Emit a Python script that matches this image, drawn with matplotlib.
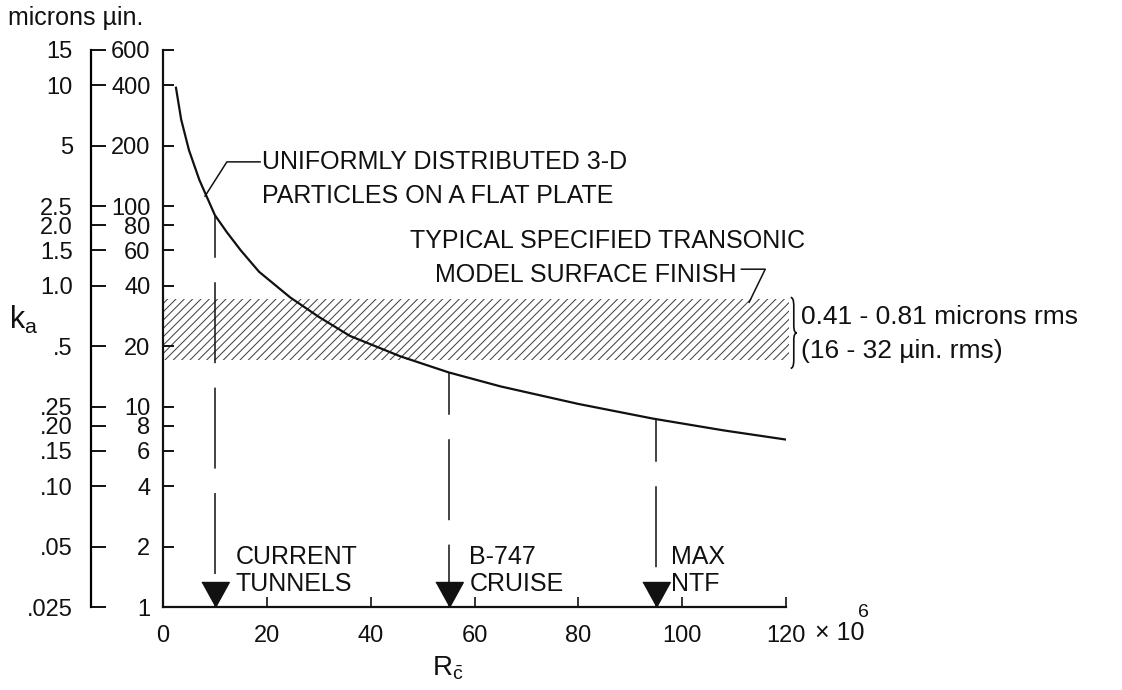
import matplotlib

matplotlib.use("Agg")
import matplotlib.pyplot as plt
import matplotlib.ticker as mticker
import numpy as np
from matplotlib.markers import MarkerStyle
from matplotlib.path import Path
from matplotlib.patches import PathPatch, Rectangle

plt.rcParams["font.family"] = ["Liberation Sans", "DejaVu Sans"]
plt.rcParams["mathtext.fontset"] = "custom"
plt.rcParams["mathtext.rm"] = "Liberation Sans"
plt.rcParams["mathtext.it"] = "Liberation Sans"
plt.rcParams["hatch.linewidth"] = 0.75

INK = "#111111"

# roughness curve, Reynolds number (x 1e6) vs allowable k (micro-inches)
RC = [2.5, 3.5, 5, 7, 10, 12.3, 15, 18.5, 24.5, 30, 36, 45.7, 55, 65, 80, 94.4, 108, 120]
K_UIN = [389, 270, 190, 135, 90, 74, 60, 47, 35, 28, 22.5, 17.8, 14.8, 12.6, 10.3, 8.7, 7.6, 6.84]

# specified finish band (micro-inches)
BAND_LOW = 17.0
BAND_HIGH = 34.5
BAND_END = 120.6

# operating points
OP_RC = [10, 55, 95]
OP_LABELS = ["CURRENT\nTUNNELS", "B-747\nCRUISE", "MAX\nNTF"]

# axes ticks
Y_TICKS = [1, 2, 4, 6, 8, 10, 20, 40, 60, 80, 100, 200, 400, 600]
Y_MICRONS = [".025", ".05", ".10", ".15", ".20", ".25", ".5", "1.0", "1.5", "2.0",
             "2.5", "5", "10", "15"]
X_TICKS = [0, 20, 40, 60, 80, 100, 120]

W, H = 1122, 690
fig = plt.figure(figsize=(W / 100, H / 100), dpi=100)
fig.patch.set_facecolor("white")

L, R, B, T = 163, 786, 607, 50
ax = fig.add_axes([L / W, 1 - B / H, (R - L) / W, (B - T) / H])
ax.set_yscale("log")
ax.set_xlim(0, 120)
ax.set_ylim(1, 600)
ax.spines[["top", "right"]].set_visible(False)
for s in ["left", "bottom"]:
    ax.spines[s].set_linewidth(1.6)
    ax.spines[s].set_color(INK)

ax.yaxis.set_major_locator(mticker.FixedLocator(Y_TICKS))
ax.yaxis.set_major_formatter(mticker.FixedFormatter([str(v) for v in Y_TICKS]))
ax.yaxis.set_minor_locator(mticker.NullLocator())
ax.tick_params(axis="y", direction="in", length=8, width=1.4, pad=9,
               labelsize=17, colors=INK)
ax.set_xticks(X_TICKS)
ax.set_xticklabels([str(v) for v in X_TICKS])
ax.tick_params(axis="x", direction="in", length=7, width=1.2, pad=13,
               labelsize=17, colors=INK)
ax.annotate("\u00d7 10", xy=(120, 0), xycoords=("data", "axes fraction"),
            xytext=(21, -19), textcoords="offset points", ha="left", va="center",
            fontsize=18, color=INK, annotation_clip=False)
ax.annotate("6", xy=(120, 0), xycoords=("data", "axes fraction"),
            xytext=(52, -4), textcoords="offset points", ha="left", va="center",
            fontsize=14, color=INK, annotation_clip=False)

# secondary scale in microns, same positions
ax2 = fig.add_axes(ax.get_position())
ax2.set_yscale("log")
ax2.set_ylim(1, 600)
ax2.patch.set_visible(False)
ax2.spines[["top", "right", "bottom"]].set_visible(False)
ax2.spines["left"].set_position(("outward", (L - 91) * 0.72))
ax2.spines["left"].set_linewidth(1.6)
ax2.xaxis.set_visible(False)
ax2.yaxis.set_major_locator(mticker.FixedLocator(Y_TICKS))
ax2.yaxis.set_major_formatter(mticker.FixedFormatter(Y_MICRONS))
ax2.yaxis.set_minor_locator(mticker.NullLocator())
ax2.tick_params(axis="y", direction="in", length=11, width=1.4, pad=13,
                labelsize=17, colors=INK)

# hatched band
band = Rectangle((0, BAND_LOW), BAND_END, BAND_HIGH - BAND_LOW, facecolor="none",
                 edgecolor="#444444", hatch="////", linewidth=0, clip_on=False, zorder=1)
ax.add_patch(band)

# curve
ax.plot(RC, K_UIN, color=INK, linewidth=1.6, zorder=3)

# operating points: dashed drop lines and triangles
tri = MarkerStyle([(-0.55, 1.0), (0.55, 1.0), (0.0, 0.0)])
offsets = [(15, 8), (15, 8), (11, 8)]
log_k = np.log10(K_UIN)
for xr, lab, off in zip(OP_RC, OP_LABELS, offsets):
    top = 10 ** np.interp(xr, RC, log_k)
    ax.plot([xr, xr], [top, 1.0], color=INK, linewidth=1.1,
            linestyle=(25, (53, 16)), zorder=3)
    ax.plot([xr], [1.0], marker=tri, markersize=36, color=INK,
            linestyle="none", clip_on=False, zorder=4)
    ax.annotate(lab, xy=(xr, 1.0), xytext=off, textcoords="offset points",
                ha="left", va="bottom", fontsize=18, color=INK, linespacing=1.15)

# curve annotation
ax.plot([8.1, 12.3, 18.7], [112, 166, 166], color=INK, linewidth=1.1, zorder=3)
ax.text(19.1, 166, "UNIFORMLY DISTRIBUTED 3-D", ha="left", va="center",
        fontsize=18, color=INK)
ax.text(19.1, 112, "PARTICLES ON A FLAT PLATE", ha="left", va="center",
        fontsize=18, color=INK)

# band annotation
ax.text(47.5, 66.8, "TYPICAL SPECIFIED TRANSONIC", ha="left", va="center",
        fontsize=18, color=INK)
ax.text(52.4, 45.2, "MODEL SURFACE FINISH", ha="left", va="center",
        fontsize=18, color=INK)
ax.plot([111.4, 116.0, 112.9], [48.4, 48.4, 33.1], color=INK, linewidth=1.1,
        clip_on=False, zorder=3)

# brace on the right of the band
x0, d = 120.9, 0.6
lt, lb = np.log10(35.0), np.log10(15.5)


def yy(u):
    return 10 ** (lt + u * (lb - lt))


verts = [(x0, yy(0)), (x0 + d, yy(0)), (x0 + d, yy(0.12)),
         (x0 + d, yy(0.4)),
         (x0 + d, yy(0.5)), (x0 + 2 * d, yy(0.5)),
         (x0 + d, yy(0.5)), (x0 + d, yy(0.6)),
         (x0 + d, yy(0.88)),
         (x0 + d, yy(1.0)), (x0, yy(1.0))]
codes = [Path.MOVETO, Path.CURVE3, Path.CURVE3, Path.LINETO,
         Path.CURVE3, Path.CURVE3, Path.CURVE3, Path.CURVE3,
         Path.LINETO, Path.CURVE3, Path.CURVE3]
ax.add_patch(PathPatch(Path(verts, codes), facecolor="none", edgecolor=INK,
                       linewidth=1.2, clip_on=False))
ax.text(122.8, 28.0, "0.41 - 0.81 microns rms", ha="left", va="center",
        fontsize=19, color=INK, clip_on=False)
ax.text(122.8, 19.0, "(16 - 32 \u00b5in. rms)", ha="left", va="center",
        fontsize=19, color=INK, clip_on=False)

# axis titles
fig.text(8 / W, 1 - 18 / H, "microns \u00b5in.", ha="left", va="center",
         fontsize=18, color=INK)
fig.text(24 / W, 1 - 320 / H, r"k$_\mathregular{a}$", ha="center", va="center",
         fontsize=22, color=INK)
fig.text(448 / W, 1 - 668 / H, r"$\mathrm{R}_{\bar{\mathrm{c}}}$", ha="center",
         va="center", fontsize=20, color=INK)

fig.savefig("out.png", dpi=100, facecolor="white")
